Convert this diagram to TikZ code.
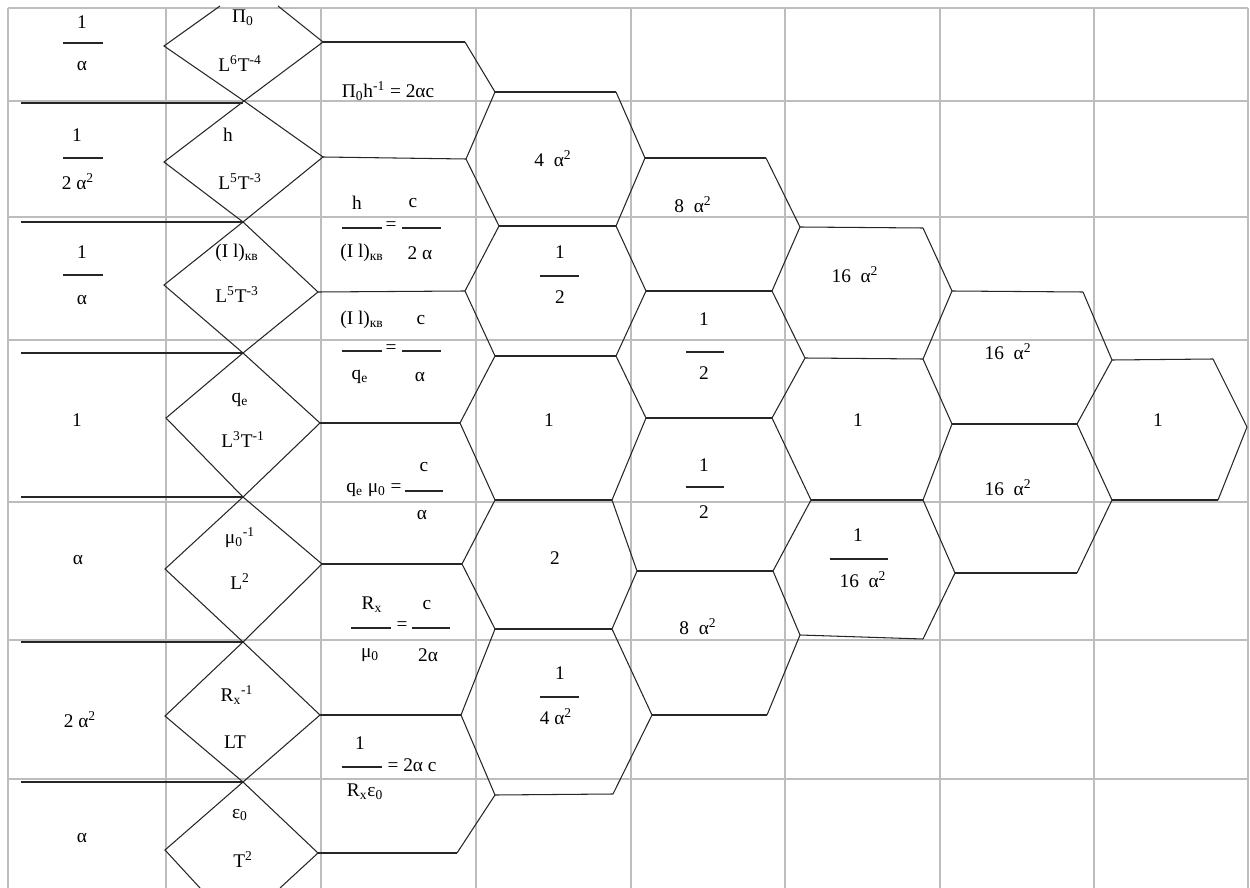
\documentclass[tikz,border=0pt]{standalone}
\usepackage{fontspec}
\setmainfont{Liberation Serif}
\usepackage{tikz}
\newcommand{\sups}[1]{\textsuperscript{#1}}
\newcommand{\subs}[1]{\textsubscript{#1}}

\begin{document}
\begin{tikzpicture}[x=0.02cm,y=-0.02cm,
  lbl/.style={inner sep=0pt,font=\fontsize{11}{13}\selectfont},
  edge/.style={line width=0.6pt,black!85},
  rowline/.style={line width=0.9pt,black!85},
  cell/.style={line width=0.7pt,tabgray}]
\definecolor{tabgray}{HTML}{BDBDBD}
\useasboundingbox (0,0) rectangle (1250,888);
\foreach \x in {8,166,321,476,631,785,940,1094,1248}
  \draw[cell] (\x,8) -- (\x,888);
\foreach \y in {8,101,217,340,502,640,779}
  \draw[cell] (8,\y) -- (1248,\y);
\foreach \y in {103,222,353,497,642,782}
  \draw[rowline] (21,\y) -- (243,\y);
\draw[edge] (220,6) -- (164,46) -- (244,101) -- (323,157) -- (243,222) -- (164,285)
  -- (243,353) -- (320,423) -- (243,497) -- (165,569) -- (243,642) -- (320,715)
  -- (243,782) -- (165,850) -- (200,888);
\draw[edge] (278,6) -- (323,42) -- (244,101) -- (164,162) -- (243,222) -- (318,292)
  -- (243,353) -- (166,418) -- (243,497) -- (322,564) -- (243,642) -- (165,716)
  -- (243,782) -- (318,853) -- (280,888);
\draw[edge] (465,42) -- (495,92) -- (466,159) -- (499,226) -- (465,291) -- (495,356)
  -- (460,423) -- (495,500) -- (462,564) -- (495,629) -- (461,715) -- (495,795) -- (457,853);
\draw[edge] (616,92) -- (645,158) -- (616,226) -- (646,291) -- (616,356) -- (646,418)
  -- (612,500) -- (637,571) -- (612,629) -- (652,715) -- (613,794);
\draw[edge] (766,158) -- (800,227) -- (772,291) -- (805,358) -- (772,418) -- (811,500)
  -- (773,571) -- (800,635) -- (767,715);
\draw[edge] (923,228) -- (952,291) -- (923,359) -- (952,424) -- (923,500) -- (955,573) -- (923,639);
\draw[edge] (1083,292) -- (1112,360) -- (1077,424) -- (1112,500) -- (1077,573);
\draw[edge] (1213,359) -- (1247,427) -- (1218,500);
\draw[edge] (323,42) -- (465,42);
\draw[edge] (323,157) -- (466,159);
\draw[edge] (318,292) -- (465,291);
\draw[edge] (320,423) -- (460,423);
\draw[edge] (322,564) -- (462,564);
\draw[edge] (320,715) -- (461,715);
\draw[edge] (318,853) -- (457,853);
\draw[edge] (495,92) -- (616,92);
\draw[edge] (499,226) -- (616,226);
\draw[edge] (495,356) -- (616,356);
\draw[edge] (495,500) -- (612,500);
\draw[edge] (495,629) -- (612,629);
\draw[edge] (495,795) -- (613,794);
\draw[edge] (645,158) -- (766,158);
\draw[edge] (646,291) -- (772,291);
\draw[edge] (646,418) -- (772,418);
\draw[edge] (637,571) -- (773,571);
\draw[edge] (652,715) -- (767,715);
\draw[edge] (800,227) -- (923,228);
\draw[edge] (805,358) -- (923,359);
\draw[edge] (811,500) -- (923,500);
\draw[edge] (800,635) -- (923,639);
\draw[edge] (952,291) -- (1083,292);
\draw[edge] (952,424) -- (1077,424);
\draw[edge] (955,573) -- (1077,573);
\draw[edge] (1112,360) -- (1213,359);
\draw[edge] (1112,500) -- (1218,500);
\foreach \xa/\xb/\y in {63/103/43,63/103/158,63/103/275,342/382/228,402/441/228,
    342/382/351,402/441/351,405/443/491,351/391/628,412/450/628,342/382/767,
    540/579/276,540/579/697,686/724/352,686/724/487,830/888/559}
  \draw[edge] (\xa,\y) -- (\xb,\y);
\node[lbl] (ka) at (82,22) {1};
\node[lbl] (kb) at (82,66) {α};
\node[lbl] (hn) at (77,135) {1};
\node[lbl] (hd) at (78,182) {2 α\sups{2}};
\node[lbl] (ia) at (82,252) {1};
\node[lbl] (ib) at (82,300) {α};
\node[lbl] (qk) at (77,420) {1};
\node[lbl] (mk) at (78,560) {α};
\node[lbl] (rk) at (80,720) {2 α\sups{2}};
\node[lbl] (ek) at (82,838) {α};
\node[lbl] (pi0) at (243,18) {Π\subs{0}};
\node[lbl] (pid) at (240,64) {L\sups{6}T\sups{-4}};
\node[lbl] (h) at (228,135) {h};
\node[lbl] (hdim) at (240,182) {L\sups{5}T\sups{-3}};
\node[lbl] (il) at (237,253) {(I l)\subs{кв}};
\node[lbl] (ildim) at (237,295) {L\sups{5}T\sups{-3}};
\node[lbl] (qe) at (240,400) {q\subs{e}};
\node[lbl] (qdim) at (243,440) {L\sups{3}T\sups{-1}};
\node[lbl] (mu) at (240,538) {μ\subs{0}\sups{-1}};
\node[lbl] (mudim) at (240,582) {L\sups{2}};
\node[lbl] (rx) at (237,695) {R\subs{x}\sups{-1}};
\node[lbl] (rxdim) at (235,742) {LT};
\node[lbl] (eps) at (240,815) {ε\subs{0}};
\node[lbl] (epsdim) at (243,860) {T\sups{2}};
\node[lbl] (eqa) at (388,91) {Π\subs{0}h\sups{-1} = 2αc};
\node[lbl] (eqbn) at (357,203) {h};
\node[lbl] (eqbr) at (413,203) {c};
\node[lbl] (eqbe) at (391,226) {=};
\node[lbl] (eqbd) at (362,253) {(I l)\subs{кв}};
\node[lbl] (eqbs) at (420,253) {2 α};
\node[lbl] (eqcn) at (362,320) {(I l)\subs{кв}};
\node[lbl] (eqcr) at (421,320) {c};
\node[lbl] (eqce) at (391,349) {=};
\node[lbl] (eqcd) at (360,377) {q\subs{e}};
\node[lbl] (eqcs) at (420,377) {α};
\node[lbl] (eqdr) at (424,467) {c};
\node[lbl] (eqdl) at (374,490) {q\subs{e} μ\subs{0} =};
\node[lbl] (eqds) at (422,515) {α};
\node[lbl] (eqen) at (372,605) {R\subs{x}};
\node[lbl] (eqer) at (427,605) {c};
\node[lbl] (eqee) at (402,626) {=};
\node[lbl] (eqed) at (370,655) {μ\subs{0}};
\node[lbl] (eqes) at (428,655) {2α};
\node[lbl] (eqfn) at (360,743) {1};
\node[lbl] (eqfr) at (412,765) {=~2α c};
\node[lbl] (eqfd) at (365,792) {R\subs{x}ε\subs{0}};
\node[lbl] (va) at (553,159) {4~~α\sups{2}};
\node[lbl] (vbn) at (560,252) {1};
\node[lbl] (vbd) at (560,297) {2};
\node[lbl] (vc) at (549,420) {1};
\node[lbl] (vd) at (555,558) {2};
\node[lbl] (ven) at (560,673) {1};
\node[lbl] (ved) at (556,717) {4 α\sups{2}};
\node[lbl] (wa) at (693,205) {8~~α\sups{2}};
\node[lbl] (wbn) at (704,319) {1};
\node[lbl] (wbd) at (704,373) {2};
\node[lbl] (wcn) at (704,465) {1};
\node[lbl] (wcd) at (704,512) {2};
\node[lbl] (wd) at (698,627) {8~~α\sups{2}};
\node[lbl] (xa) at (855,275) {16~~α\sups{2}};
\node[lbl] (xb) at (858,420) {1};
\node[lbl] (xcn) at (858,535) {1};
\node[lbl] (xcd) at (863,580) {16~~α\sups{2}};
\node[lbl] (ya) at (1008,352) {16~~α\sups{2}};
\node[lbl] (yb) at (1008,488) {16~~α\sups{2}};
\node[lbl] (za) at (1158,420) {1};
\end{tikzpicture}
\end{document}
